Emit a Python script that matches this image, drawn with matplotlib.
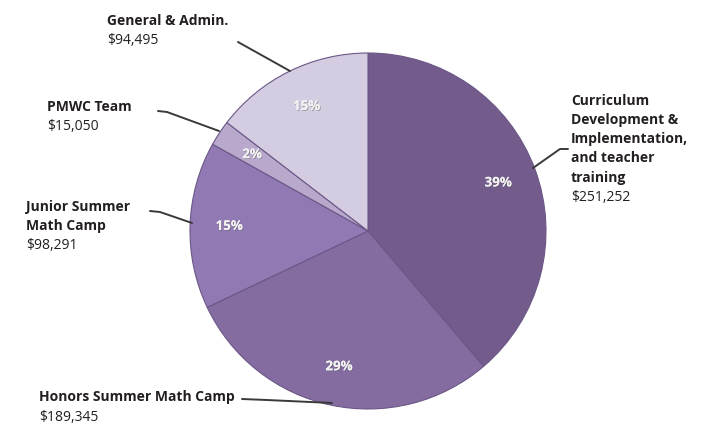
import matplotlib
matplotlib.use("Agg")
import matplotlib.pyplot as plt
import matplotlib.patheffects as pe

categories = ["Curriculum\nDevelopment &\nImplementation,\nand teacher\ntraining",
              "Honors Summer Math Camp",
              "Junior Summer\nMath Camp",
              "PMWC Team",
              "General & Admin."]
amounts = [251252, 189345, 98291, 15050, 94495]
amount_labels = ["$251,252", "$189,345", "$98,291", "$15,050", "$94,495"]
colors = ["#735b8c", "#846ba0", "#9179b3", "#b8a9cc", "#d4cce1"]

W, H = 715, 425
fig = plt.figure(figsize=(W / 100, H / 100), dpi=100)
ax = fig.add_axes([0, 0, 1, 1])

fam = ["Open Sans", "DejaVu Sans"]
cx, cy, r = 368, H - 231, 178
wedges, texts, autotexts = ax.pie(
    amounts, colors=colors, startangle=90, counterclock=False,
    center=(cx, cy), radius=r, autopct=lambda p: f"{p:.0f}%",
    pctdistance=0.78, frame=True,
    wedgeprops=dict(edgecolor="#6b5786", linewidth=0.8),
    textprops=dict(color="#f2f2f2", fontsize=9.6, fontweight="bold",
                   family=fam))
for t in autotexts:
    t.set_path_effects([pe.withSimplePatchShadow(offset=(0.6, -0.6),
                                                 shadow_rgbFace="#555555",
                                                 alpha=0.5), pe.Normal()])
ax.set_xlim(0, W)
ax.set_ylim(0, H)
ax.set_aspect("equal")
ax.axis("off")

# label blocks: first-line centre positions in pixels (x left, y from top)
label_pos = [(571, 99), (39, 396), (26, 205), (47, 105), (107, 19)]
ls = 19.3
for name, amt, (x, y) in zip(categories, amount_labels, label_pos):
    lines = name.split("\n")
    for i, line in enumerate(lines):
        ax.text(x, H - (y + i * ls), line, ha="left", va="center_baseline",
                fontsize=10, fontweight="bold", color="#231f20", family=fam)
    ax.text(x, H - (y + len(lines) * ls), amt, ha="left", va="center_baseline",
            fontsize=10, color="#231f20", family=fam)

# leader lines (pixel coordinates)
leaders = [
    [(568, 149), (560, 149), (533, 168)],
    [(242, 399), (267, 400), (332, 403)],
    [(150, 211), (160, 212), (192, 223)],
    [(158, 111), (167, 112), (219, 131)],
    [(238, 42), (290, 71)],
]
for pts in leaders:
    xs = [p[0] for p in pts]
    ys = [H - p[1] for p in pts]
    ax.plot(xs, ys, color="#3a3a3a", linewidth=1.4, solid_capstyle="round")

fig.savefig("out.png", dpi=100)
